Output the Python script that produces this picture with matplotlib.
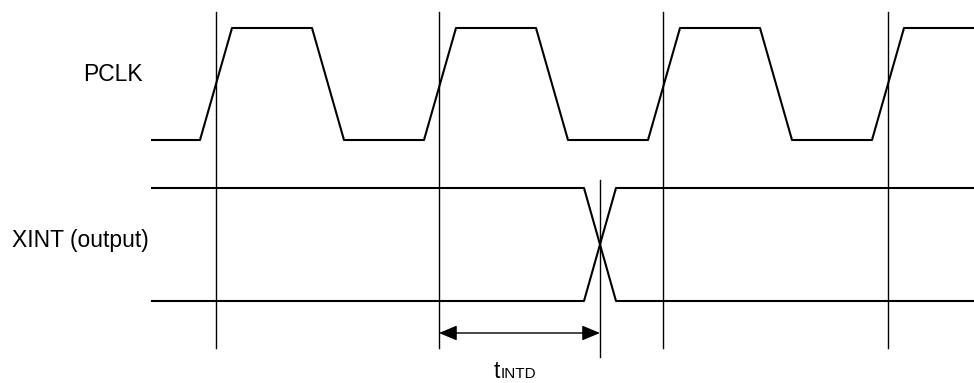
import matplotlib.pyplot as plt

# waveform data (x in picture units along the time axis)
pclk_t = [152, 200, 232, 312, 344, 424, 456, 536, 568, 648, 680, 760, 792, 872, 904, 974]
pclk_lvl = [0, 0, 1, 1, 0, 0, 1, 1, 0, 0, 1, 1, 0, 0, 1, 1]

xint_t = [152, 584, 616, 974]
xint_a = [1, 1, 0, 0]
xint_b = [0, 0, 1, 1]

edge_t = [216, 439, 663, 888]
t_cross = 600

signal_names = ["PCLK", "XINT (output)"]

# y position of low/high for each signal row
pclk_y = {0: 140, 1: 28}
xint_y = {0: 301, 1: 188}

plt.rcParams['font.family'] = ['Liberation Sans', 'DejaVu Sans']

fig = plt.figure(figsize=(9.74, 3.83), dpi=100)
ax = fig.add_axes([0, 0, 1, 1])
ax.set_xlim(0, 974)
ax.set_ylim(383, 0)
ax.axis('off')

wave_lw = 1.5
ax.plot(pclk_t, [pclk_y[v] for v in pclk_lvl], color='black', lw=wave_lw)
ax.plot(xint_t, [xint_y[v] for v in xint_a], color='black', lw=wave_lw)
ax.plot(xint_t, [xint_y[v] for v in xint_b], color='black', lw=wave_lw)

# reference lines at PCLK rising edges
for t in edge_t:
    ax.plot([t, t], [12, 348], color='black', lw=1.0)
ax.plot([t_cross, t_cross], [180, 357], color='black', lw=1.0)

# t_INTD dimension arrow
ax.annotate('', xy=(t_cross, 333), xytext=(edge_t[1], 333),
            arrowprops=dict(arrowstyle='<|-|>,head_length=0.55,head_width=0.23',
                            color='black', lw=1.0,
                            mutation_scale=20, shrinkA=0, shrinkB=0))

ax.text(83, 81, signal_names[0], fontsize=16.5, ha='left', va='baseline')
ax.text(12, 247, signal_names[1], fontsize=16.5, ha='left', va='baseline')

ax.text(494, 378, 't', fontsize=16.5, ha='left', va='baseline')
ax.text(501, 378, 'INTD', fontsize=11, ha='left', va='baseline')

fig.savefig('out.png', dpi=100)
